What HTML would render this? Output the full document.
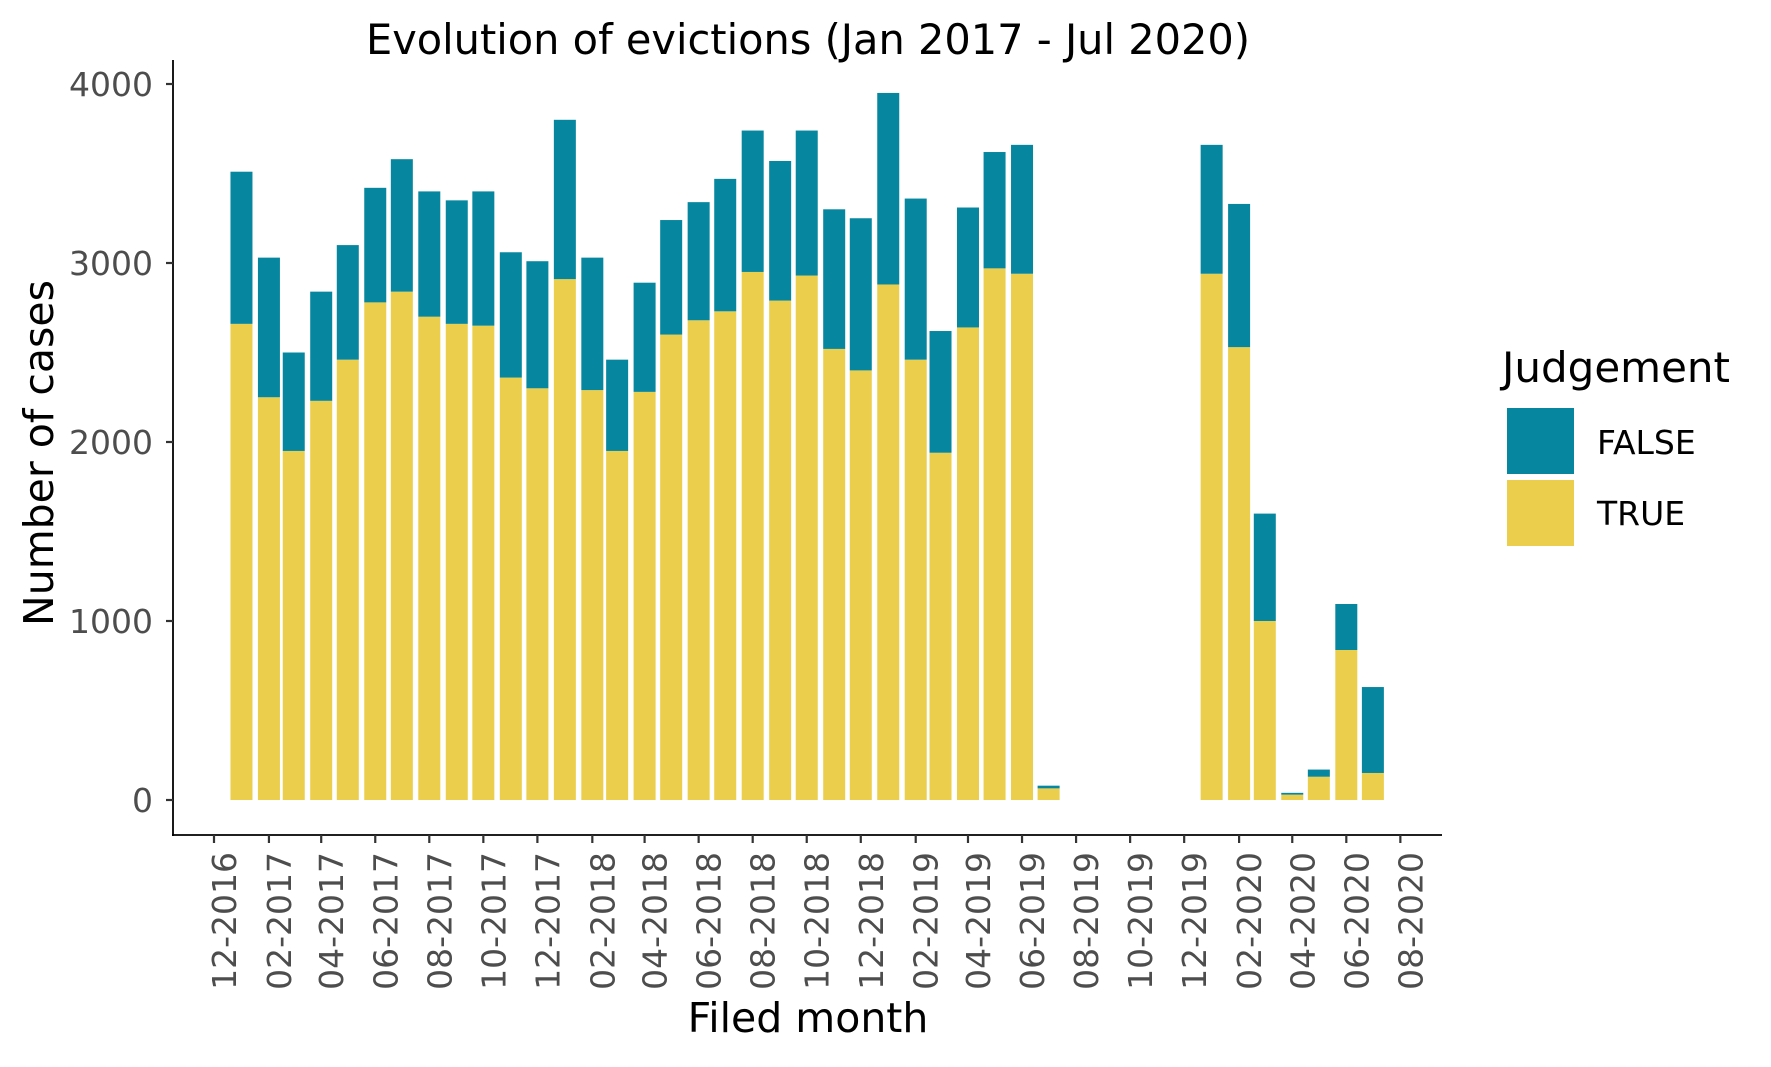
<!DOCTYPE html>
<html><head><meta charset="utf-8"><style>
body{margin:0;background:#fff;}
svg text{font-family:"DejaVu Sans","Liberation Sans",sans-serif;}
</style></head><body>
<svg id="chart" width="1771" height="1062" xmlns="http://www.w3.org/2000/svg">
<rect width="1771" height="1062" fill="#fff"/>
<text x="808" y="54" font-size="41.5" text-anchor="middle" fill="#000">Evolution of evictions (Jan 2017 - Jul 2020)</text>
<g id="bars"></g>
<g id="axes"></g>
<text transform="translate(53,453) rotate(-90)" font-size="41" text-anchor="middle" fill="#000">Number of cases</text>
<text x="808" y="1032" font-size="41" text-anchor="middle" fill="#000">Filed month</text>
<g>
<text x="1502" y="382" font-size="42" fill="#000">Judgement</text>
<rect x="1507" y="408" width="67" height="66" fill="#06879F"/>
<text x="1597" y="454" font-size="33" fill="#000">FALSE</text>
<rect x="1507" y="480" width="67" height="66" fill="#EBCE4C"/>
<text x="1597" y="525" font-size="33" fill="#000">TRUE</text>
</g>
</svg>
<script>
const months = ["2017-01","2017-02","2017-03","2017-04","2017-05","2017-06","2017-07","2017-08","2017-09","2017-10","2017-11","2017-12","2018-01","2018-02","2018-03","2018-04","2018-05","2018-06","2018-07","2018-08","2018-09","2018-10","2018-11","2018-12","2019-01","2019-02","2019-03","2019-04","2019-05","2019-06","2019-07","2020-01","2020-02","2020-03","2020-04","2020-05","2020-06","2020-07"];
const totalCases = [3510,3030,2500,2840,3100,3420,3580,3400,3350,3400,3060,3010,3800,3030,2460,2890,3240,3340,3470,3740,3570,3740,3300,3250,3950,3360,2620,3310,3620,3660,80,3660,3330,1600,40,170,1095,631];
const trueCases = [2660,2250,1950,2230,2460,2780,2840,2700,2660,2650,2360,2300,2910,2290,1950,2280,2600,2680,2730,2950,2790,2930,2520,2400,2880,2460,1940,2640,2970,2940,65,2940,2530,1000,30,130,838,151];
const yTicks = [0,1000,2000,3000,4000];
const xTicks = ["2016-12","2017-02","2017-04","2017-06","2017-08","2017-10","2017-12","2018-02","2018-04","2018-06","2018-08","2018-10","2018-12","2019-02","2019-04","2019-06","2019-08","2019-10","2019-12","2020-02","2020-04","2020-06","2020-08"];

const NS="http://www.w3.org/2000/svg";
const origin=Date.UTC(2016,11,1);
function days(m){const [y,mo]=m.split("-").map(Number);return (Date.UTC(y,mo-1,1)-origin)/86400000;}
function xs(m){return 214+days(m)*0.886;}
function ys(v){return 800-v*0.179;}
function mk(tag,attrs,parent){const e=document.createElementNS(NS,tag);for(const k in attrs)e.setAttribute(k,attrs[k]);parent.appendChild(e);return e;}
const bars=document.getElementById("bars"), axes=document.getElementById("axes");
const bw=22;
months.forEach((m,i)=>{
  const cx=xs(m);
  const t=mk("rect",{x:cx-bw/2,y:ys(trueCases[i]),width:bw,height:ys(0)-ys(trueCases[i]),fill:"#EBCE4C"},bars);
  
  
  const f=mk("rect",{x:cx-bw/2,y:ys(totalCases[i]),width:bw,height:ys(trueCases[i])-ys(totalCases[i]),fill:"#06879F"},bars);
  
  
});
const yl=mk("line",{x1:173,y1:60,x2:173,y2:836,stroke:"#000","stroke-width":1.8},axes);


const xl=mk("line",{x1:172,y1:835,x2:1442,y2:835,stroke:"#000","stroke-width":1.8},axes);


yTicks.forEach(v=>{
  mk("line",{x1:166,y1:ys(v),x2:173,y2:ys(v),stroke:"#333","stroke-width":2.2},axes);
  const t=mk("text",{x:153,y:ys(v)+12,"font-size":33,"text-anchor":"end",fill:"#4d4d4d"},axes);
  t.textContent=v;
  
  
});
xTicks.forEach(m=>{
  const x=xs(m);
  mk("line",{x1:x,y1:835,x2:x,y2:843,stroke:"#333","stroke-width":2.2},axes);
  const [y,mo]=m.split("-");
  const t=mk("text",{transform:`translate(${x+22},852) rotate(-90)`,"font-size":33,"text-anchor":"end",fill:"#4d4d4d"},axes);
  t.textContent=mo+"-"+y;
  
  
});
</script>
</body></html>
